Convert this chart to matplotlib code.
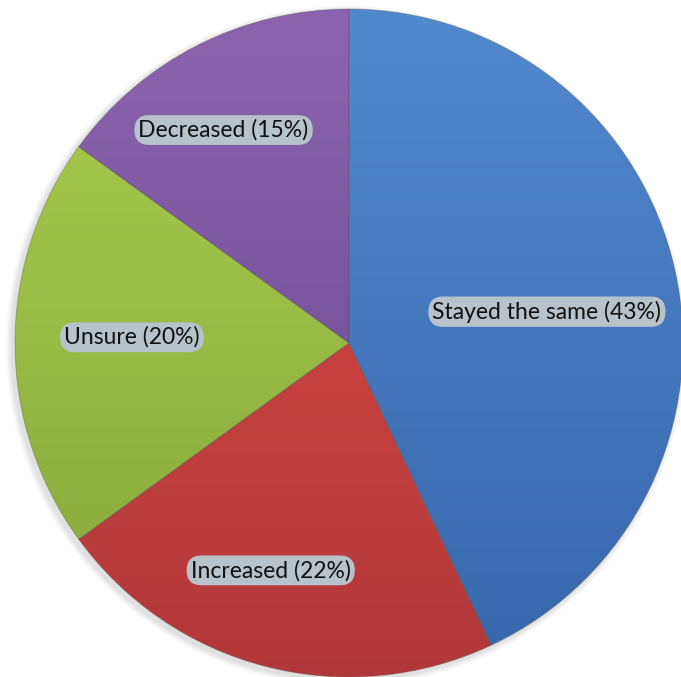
import numpy as np
import matplotlib
matplotlib.use("Agg")
import matplotlib.pyplot as plt
from matplotlib.colors import LinearSegmentedColormap
from matplotlib.patches import Circle

labels = ["Stayed the same", "Increased", "Unsure", "Decreased"]
values = [43, 22, 20, 15]
# top / bottom shades of each slice's vertical gradient
top_colors = ["#5189cf", "#de4a45", "#acce4f", "#8c63ae"]
bot_colors = ["#3766ab", "#b1383a", "#86a63a", "#684690"]
# label anchor (fraction of radius, angle in degrees)
label_pos = [(0.60, 9.0), (0.72, -109.0), (0.65, 178.5), (0.74, 120.5)]

W, H = 681, 677
CX, CY, R = 349, H - 343, 334

fig = plt.figure(figsize=(W / 100, H / 100), dpi=100)
ax = fig.add_axes([0, 0, 1, 1])

# soft shadow / halo
for i, a in enumerate([0.05, 0.05, 0.06, 0.08]):
    ax.add_patch(Circle((CX - 3, CY - 3), R + 6 - 1.5 * i, color="#7a7a7a",
                        alpha=a, lw=0, zorder=0))

wedges, _ = ax.pie(values, startangle=90, counterclock=False,
                   center=(CX, CY), radius=R, frame=True,
                   wedgeprops=dict(lw=0.8, edgecolor="#55555555"))

grad = np.linspace(1, 0, 256).reshape(-1, 1)
for w, c0, c1 in zip(wedges, top_colors, bot_colors):
    w.set_facecolor("none")
    w.set_zorder(3)
    cmap = LinearSegmentedColormap.from_list("g", [c1, c0])
    im = ax.imshow(grad, cmap=cmap, aspect="auto", vmin=0, vmax=1,
                   extent=(CX - R, CX + R, CY - R, CY + R), zorder=2,
                   interpolation="bilinear")
    im.set_clip_path(w)

ax.set_xlim(0, W)
ax.set_ylim(0, H)
ax.set_aspect("equal")
ax.axis("off")

for lab, v, (rf, ang) in zip(labels, values, label_pos):
    t = np.deg2rad(ang)
    x = CX + rf * R * np.cos(t)
    y = CY + rf * R * np.sin(t)
    ax.text(x, y, f"{lab} ({v}%)", ha="center", va="center", fontsize=16.5,
            family=["Lato", "DejaVu Sans"], color="#111111", zorder=5,
            bbox=dict(boxstyle="round,pad=0.18,rounding_size=0.65",
                      fc="#b7c2ca", ec="none"))

fig.savefig("out.png", dpi=100)
